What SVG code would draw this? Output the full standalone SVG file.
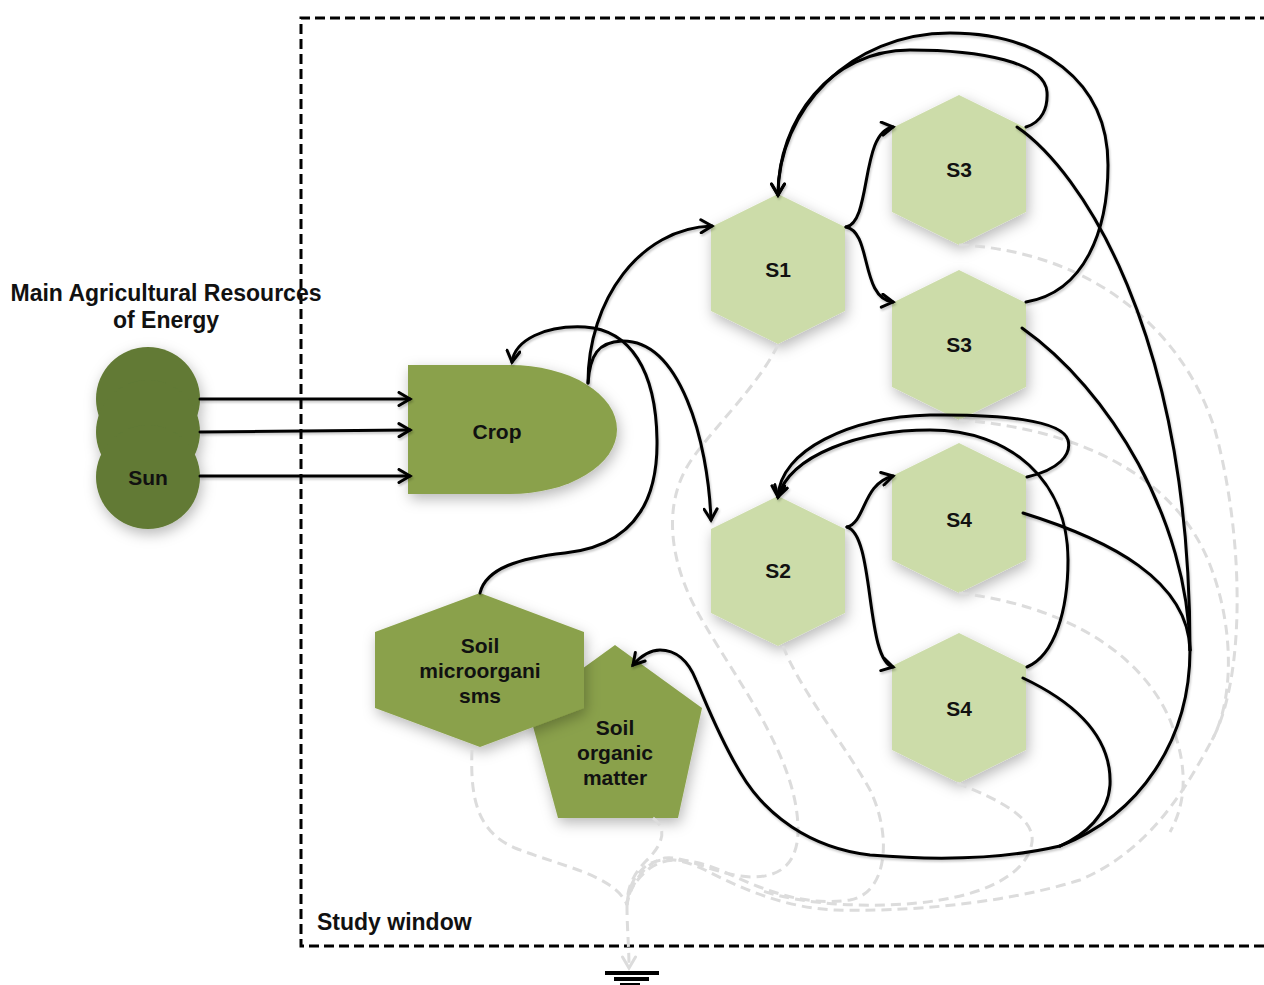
<svg xmlns="http://www.w3.org/2000/svg" width="1264" height="985" viewBox="0 0 1264 985">
  <defs>
    <style>
      .lbl { font-family: "Liberation Sans", Arial, Helvetica, sans-serif; font-weight: bold; font-size: 21px; fill: #111; text-anchor: middle; }
      .big { font-size: 23px; }
      .lbl-left { font-family: "Liberation Sans", Arial, Helvetica, sans-serif; font-weight: bold; font-size: 23px; fill: #111; }
      .sun { fill: #627a35; }
      .dark { fill: #8aa14b; }
      .light { fill: #ccdca9; }
      .flow { fill: none; stroke: #000; stroke-width: 3; stroke-linecap: round; }
      .flow-arrow { fill: none; stroke: #000; stroke-width: 3; stroke-linecap: round; marker-end: url(#arrow); }
      .waste { fill: none; stroke: #dcdcdc; stroke-width: 3; stroke-dasharray: 10 6; }
      .frame { fill: none; stroke: #000; stroke-width: 3; stroke-dasharray: 10 5; }
    </style>
    <filter id="shadow" x="-30%" y="-30%" width="160%" height="160%">
      <feDropShadow dx="2" dy="5" stdDeviation="7" flood-color="#000" flood-opacity="0.28"/>
    </filter>
    <filter id="lineShadow" filterUnits="userSpaceOnUse" x="0" y="0" width="1264" height="985">
      <feDropShadow dx="1" dy="2" stdDeviation="1.2" flood-color="#000" flood-opacity="0.22"/>
    </filter>
    <marker id="arrow" viewBox="0 0 16 16" refX="13" refY="8" markerWidth="16" markerHeight="16" markerUnits="userSpaceOnUse" orient="auto">
      <path d="M2,1.5 L13,8 L2,14.5" fill="none" stroke="#000" stroke-width="3" stroke-linecap="round"/>
    </marker>
    <marker id="arrowGrey" viewBox="0 0 16 16" refX="13" refY="8" markerWidth="16" markerHeight="16" markerUnits="userSpaceOnUse" orient="auto">
      <path d="M2,1.5 L13,8 L2,14.5" fill="none" stroke="#dcdcdc" stroke-width="3" stroke-linecap="round"/>
    </marker>
    <polygon id="hex" points="0,-75 67,-42 67,42 0,75 -67,42 -67,-42"/>
  </defs>

  <rect width="1264" height="985" fill="#fff"/>

  <!-- study window boundary -->
  <path class="frame" d="M1300,18 H301 V946 H1300"/>
  <text class="lbl-left" x="317" y="930">Study window</text>

  <!-- title -->
  <text class="lbl big" x="166" y="301">Main Agricultural Resources</text>
  <text class="lbl big" x="166" y="328">of Energy</text>

  <!-- ground symbol -->
  <g id="ground" stroke="#000" stroke-width="4">
    <line x1="605" y1="973" x2="659" y2="973"/>
    <line x1="614" y1="979" x2="649" y2="979"/>
    <line x1="620" y1="985" x2="640" y2="985"/>
  </g>

  <!-- energy sources -->
  <g id="sun" filter="url(#shadow)">
    <circle class="sun" cx="148" cy="399" r="52"/>
    <circle class="sun" cx="148" cy="432" r="52"/>
    <circle class="sun" cx="148" cy="477" r="52"/>
  </g>
  <text class="lbl" x="148" y="485">Sun</text>

  <g id="crop">
    <path class="dark" filter="url(#shadow)" d="M408,365 H510 A107,64.5 0 0 1 510,494 H408 Z"/>
    <text class="lbl" x="497" y="439">Crop</text>
  </g>

  <g id="soil-organic-matter">
    <polygon class="dark" filter="url(#shadow)" points="615,645 702,708 678,818 558,818 528,708"/>
    <text class="lbl" x="615" y="735">Soil</text>
    <text class="lbl" x="615" y="760">organic</text>
    <text class="lbl" x="615" y="785">matter</text>
  </g>

  <g id="soil-microorganisms">
    <polygon class="dark" filter="url(#shadow)" points="480,593 584,632 584,708 480,747 375,708 375,632"/>
    <text class="lbl" x="480" y="653">Soil</text>
    <text class="lbl" x="480" y="678">microorgani</text>
    <text class="lbl" x="480" y="703">sms</text>
  </g>

  <g id="s1">
    <use href="#hex" class="light" filter="url(#shadow)" transform="translate(778,269)"/>
    <text class="lbl" x="778" y="277">S1</text>
  </g>
  <g id="s3-upper">
    <use href="#hex" class="light" filter="url(#shadow)" transform="translate(959,170)"/>
    <text class="lbl" x="959" y="177">S3</text>
  </g>
  <g id="s3-lower">
    <use href="#hex" class="light" filter="url(#shadow)" transform="translate(959,345)"/>
    <text class="lbl" x="959" y="352">S3</text>
  </g>
  <g id="s2">
    <use href="#hex" class="light" filter="url(#shadow)" transform="translate(778,571)"/>
    <text class="lbl" x="778" y="578">S2</text>
  </g>
  <g id="s4-upper">
    <use href="#hex" class="light" filter="url(#shadow)" transform="translate(959,518)"/>
    <text class="lbl" x="959" y="527">S4</text>
  </g>
  <g id="s4-lower">
    <use href="#hex" class="light" filter="url(#shadow)" transform="translate(959,708)"/>
    <text class="lbl" x="959" y="716">S4</text>
  </g>

  <!-- connectors -->
  <g id="connectors">
    <!-- dissipation paths to the ground -->
    <g id="dissipation">
      <path class="waste" d="M472,750 C470,800 478,832 515,848 C560,866 615,875 627,905"/>
      <path class="waste" d="M653,818 C670,830 660,848 645,862 C633,875 627,888 627,905"/>
      <path class="waste" d="M778,345 C755,390 715,425 690,462 C662,505 668,565 705,625 C740,685 798,760 798,830 C798,872 770,880 740,876 C705,870 685,856 665,858 C645,862 630,885 627,905"/>
      <path class="waste" d="M783,646 C800,690 845,745 870,790 C892,835 888,893 850,900 C800,907 760,888 720,870 C695,860 668,855 650,868 C635,880 628,892 627,905"/>
      <path class="waste" d="M959,245 C1080,250 1180,320 1215,430 C1245,540 1245,680 1212,740 C1185,790 1150,850 1080,880 C1000,905 900,912 835,910 C785,908 740,888 705,870 C680,858 660,856 646,866 C633,876 628,890 627,905"/>
      <path class="waste" d="M959,420 C1070,428 1170,470 1208,560 C1235,625 1234,700 1212,740"/>
      <path class="waste" d="M959,593 C1060,605 1140,650 1170,720 C1190,770 1185,805 1170,832"/>
      <path class="waste" d="M957,783 C1000,800 1035,818 1032,842 C1028,872 990,892 940,900 C880,910 800,905 760,890"/>
      <path class="waste" d="M627,905 C627,930 629,945 629,968" marker-end="url(#arrowGrey)"/>
    </g>

    <g id="energy-flows" filter="url(#lineShadow)">
      <!-- sun to crop -->
      <path class="flow-arrow" d="M200,399 L410,399"/>
      <path class="flow-arrow" d="M200,432 L410,430"/>
      <path class="flow-arrow" d="M200,476 L410,476"/>

      <!-- crop outputs -->
      <path class="flow-arrow" d="M588,383 C588,300 640,228 712,226"/>
      <path class="flow-arrow" d="M588,383 C590,355 598,342 622,341 C680,340 708,440 711,520"/>

      <!-- soil microorganisms back to crop -->
      <path class="flow-arrow" d="M480,593 C486,568 520,558 565,553 C630,546 658,505 657,440 C656,370 630,330 585,327 C545,325 515,340 512,362"/>

      <!-- S1 to S3 -->
      <path class="flow-arrow" d="M846,227 C872,222 860,132 893,127"/>
      <path class="flow-arrow" d="M846,227 C872,232 860,298 893,302"/>

      <!-- S3 back to S1 -->
      <path class="flow-arrow" d="M1026,127 C1042,122 1048,108 1047,92 C1045,62 980,50 910,50 C830,50 778,120 778,195"/>
      <path class="flow-arrow" d="M1026,302 C1085,292 1108,230 1108,165 C1108,80 1040,33 950,33 C850,33 778,110 778,195"/>

      <!-- S2 to S4 -->
      <path class="flow-arrow" d="M847,527 C866,522 862,484 893,476"/>
      <path class="flow-arrow" d="M847,527 C875,535 865,660 893,667"/>

      <!-- S4 back to S2 -->
      <path class="flow-arrow" d="M1027,477 C1058,470 1072,455 1068,440 C1062,420 1000,414 930,415 C850,417 780,450 778,497"/>
      <path class="flow-arrow" d="M1027,667 C1055,655 1068,610 1068,560 C1068,480 1010,430 930,430 C860,430 790,455 778,497"/>

      <!-- returns to soil organic matter -->
      <path class="flow" d="M1017,127 C1080,170 1190,330 1190,650"/>
      <path class="flow" d="M1022,328 C1110,390 1188,520 1190,650"/>
      <path class="flow" d="M1023,513 C1110,540 1188,580 1190,650"/>
      <path class="flow" d="M1190,650 C1190,740 1140,815 1060,846"/>
      <path class="flow" d="M1023,678 C1080,705 1112,740 1110,785 C1108,815 1085,835 1060,846"/>
      <path class="flow-arrow" d="M1060,846 C1000,860 930,860 870,855 C810,848 765,815 740,772 C718,735 705,700 696,680 C688,660 675,650 660,650 C650,650 640,657 633,665"/>
    </g>
  </g>
</svg>
